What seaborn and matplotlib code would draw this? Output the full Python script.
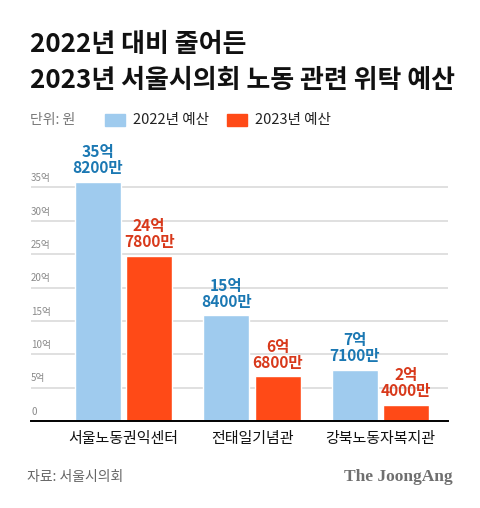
import numpy as np
import pandas as pd
import seaborn as sns
import matplotlib.pyplot as plt

# 서울시의회 노동 관련 위탁 예산 (단위: 억 원)
centers = ['서울노동권익센터', '전태일기념관', '강북노동자복지관']
years = ['2022년 예산', '2023년 예산']
budget_2022 = [35.82, 15.84, 7.71]
budget_2023 = [24.78, 6.68, 2.40]
labels_2022 = ['35억\n8200만', '15억\n8400만', '7억\n7100만']
labels_2023 = ['24억\n7800만', '6억\n6800만', '2억\n4000만']
yticks = [0, 5, 10, 15, 20, 25, 30, 35]
ytick_labels = ['0', '5억', '10억', '15억', '20억', '25억', '30억', '35억']

sns.set_theme(style='white')
plt.rcParams['font.family'] = ['Noto Sans CJK KR', 'DejaVu Sans']

bar_colors = ['#9fcbee', '#ff4a17']
text_colors = ['#1b78b3', '#d8391b']

df = pd.DataFrame({
    'center': centers * 2,
    'year': [years[0]] * 3 + [years[1]] * 3,
    'value': budget_2022 + budget_2023,
    'label': labels_2022 + labels_2023,
})

fig = plt.figure(figsize=(4.8, 5.08), dpi=100)
W, H = 480, 508
ax = fig.add_axes([31 / W, (H - 421) / H, 417 / W, 267 / H])

sns.barplot(data=df, x='center', y='value', hue='year', order=centers, hue_order=years,
            palette=bar_colors, width=0.8, gap=0.1, saturation=1, legend=False, ax=ax, zorder=3)

ax.set_xlim(-0.72, 2.525)
ax.set_ylim(0, 40)
ax.set_xlabel('')
ax.set_ylabel('')
ax.set_yticks([])
for s in ['top', 'right', 'left']:
    ax.spines[s].set_visible(False)
ax.spines['bottom'].set_color('black')
ax.spines['bottom'].set_linewidth(1.4)
ax.spines['bottom'].set_zorder(5)

# 가로 눈금선과 눈금 텍스트
for v, t in zip(yticks, ytick_labels):
    if v > 0:
        ax.axhline(v, color='#dddddd', lw=1.3, zorder=1)
    ax.annotate(t, xy=(0, v), xycoords=('axes fraction', 'data'), xytext=(0, 3),
                textcoords='offset points', fontsize=7, color='#8a8a8a',
                ha='left', va='bottom')

ax.tick_params(axis='x', length=0, pad=8, labelsize=10.8, labelcolor='#111111')

# 막대 위 값 라벨
for container, labels, col in zip(ax.containers, [labels_2022, labels_2023], text_colors):
    for bar, lab in zip(container, labels):
        ax.annotate(lab, xy=(bar.get_x() + bar.get_width() / 2, bar.get_height()),
                    xytext=(0, 4), textcoords='offset points', ha='center', va='bottom',
                    fontsize=11.2, fontweight='bold', color=col, linespacing=1.0,
                    annotation_clip=False)

# 제목
fig.text(30 / W, 1 - 45 / H, '2022년 대비 줄어든', fontsize=18.7, fontweight='bold',
         color='#111111', va='center', ha='left')
fig.text(30 / W, 1 - 81 / H, '2023년 서울시의회 노동 관련 위탁 예산', fontsize=18.7,
         fontweight='bold', color='#111111', va='center', ha='left')

# 범례
fig.text(30 / W, 1 - 120 / H, '단위: 원', fontsize=10, color='#777777', va='center')
for i, (name, c) in enumerate(zip(years, bar_colors)):
    x0 = [105, 227][i]
    fig.patches.append(plt.Rectangle((x0 / W, 1 - 126 / H), 20 / W, 12 / H,
                                     transform=fig.transFigure, color=c))
    fig.text((x0 + 28) / W, 1 - 120 / H, name, fontsize=10.5, color='#222222', va='center')

# 출처
fig.text(27 / W, 1 - 477 / H, '자료: 서울시의회', fontsize=10, color='#666666', va='center')
fig.text(453 / W, 1 - 477 / H, 'The JoongAng', fontsize=12.5, fontweight='bold',
         family=['Liberation Serif', 'DejaVu Serif'], color='#6f6f6f', va='center', ha='right')

fig.savefig('out.png', dpi=100)
